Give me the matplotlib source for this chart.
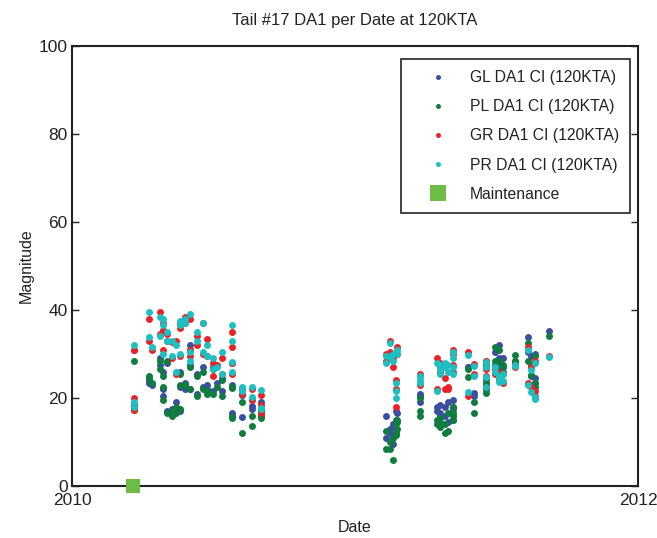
import matplotlib.pyplot as plt
from matplotlib.lines import Line2D

plt.rcParams['font.family'] = ['Liberation Sans', 'DejaVu Sans']

# Dates in decimal years (several flights per date)
dates = [
    2010.219, 2010.219, 2010.219, 2010.272, 2010.272, 2010.283, 2010.311, 2010.311,
    2010.322, 2010.322, 2010.322, 2010.336, 2010.336, 2010.353, 2010.353, 2010.367,
    2010.367, 2010.382, 2010.382, 2010.382, 2010.399, 2010.399, 2010.417, 2010.417,
    2010.417, 2010.442, 2010.442, 2010.463, 2010.463, 2010.477, 2010.477, 2010.498,
    2010.498, 2010.512, 2010.530, 2010.530, 2010.565, 2010.565, 2010.565, 2010.565,
    2010.601, 2010.601, 2010.636, 2010.636, 2010.668, 2010.668, 2010.668,
    2011.110, 2011.110, 2011.124, 2011.124, 2011.134, 2011.134, 2011.145, 2011.145,
    2011.145, 2011.148, 2011.148, 2011.230, 2011.230, 2011.230, 2011.290, 2011.290,
    2011.300, 2011.300, 2011.300, 2011.318, 2011.318, 2011.329, 2011.329, 2011.346,
    2011.346, 2011.346, 2011.346, 2011.399, 2011.399, 2011.420, 2011.420, 2011.463,
    2011.463, 2011.463, 2011.463, 2011.495, 2011.495, 2011.509, 2011.509, 2011.509,
    2011.523, 2011.523, 2011.565, 2011.565, 2011.611, 2011.611, 2011.622, 2011.622,
    2011.636, 2011.636, 2011.636, 2011.686,
]

gl = [
    31, 18.5, 17.5, 24, 23.5, 23, 27.5, 29, 26, 22, 20.5, 28, 17, 17.5, 16.5, 19,
    17.5, 26, 22.5, 17, 23.5, 22, 32, 27.5, 22, 21, 25.5, 27, 22.5, 23, 22, 21.5,
    27, 23.5, 24.5, 21.5, 28, 23, 16.6, 16, 20.7, 15.7, 18.2, 17.5, 19, 17, 16.6,
    16, 11, 12, 13, 9.5, 14, 17, 15, 13, 16.5, 14.5, 20.5, 19, 21, 18, 17,
    18.5, 16, 16.5, 16, 18, 14.5, 19, 19.5, 17.5, 18, 15, 27, 27, 21.1, 20.5,
    28.5, 24, 23, 22, 30.5, 27.5, 32, 29, 28, 29, 27, 28.5, 28, 33.9, 30.5,
    29.5, 25, 30, 24.5, 23.5, 35.2,
]
pl = [
    28.5, 18, 17.2, 24.5, 25, 23.5, 26.5, 28.5, 25, 22.5, 19.5, 28.5, 16.5, 17, 16, 18,
    16.5, 25.5, 23, 17.5, 23, 23, 31, 27, 22, 20.5, 25, 26, 22, 21.5, 21, 21,
    26.5, 22.5, 24, 20.5, 22.5, 22.3, 15.7, 15.5, 19, 12, 16, 13.6, 16.6, 15.5, 16,
    12.5, 8.5, 10, 8.5, 6, 11, 14, 11.5, 12, 15, 13, 17, 16, 20, 15, 14,
    13.5, 14.5, 15.5, 12, 14, 12.5, 16.5, 15, 16.5, 18, 16, 24.8, 26.5, 19.1, 16.6,
    27.5, 21.1, 23.5, 22, 31.5, 28.5, 31, 28.5, 26.5, 27.5, 26, 29.8, 28.5, 32.5, 28.5,
    27.5, 25.2, 29.5, 23.5, 22.5, 34.1,
]
gr = [
    31, 20, 17.3, 38, 33, 31, 39.5, 34.5, 31, 37, 35.5, 33, 34.5, 32.8, 29, 33,
    25.5, 37, 36, 29.5, 38.5, 37, 38, 31, 29.5, 34, 32, 30, 37, 33.5, 29.5, 25,
    28, 27.5, 29, 25.5, 35, 31.6, 25.5, 28, 22, 21, 22, 19.5, 20.7, 18.5, 16.5,
    30, 28.5, 33, 30.5, 29, 27, 24, 22, 18, 31.5, 30, 25.5, 23, 25, 22, 29,
    27, 28, 26, 24.5, 22, 22, 22.5, 31, 30, 27.5, 26, 30.5, 20.5, 27.8, 25.5,
    28.5, 26.5, 25, 22.5, 26.5, 25.5, 26, 24, 25, 25.5, 23.5, 27.5, 27, 31.6, 23.5,
    27, 22.5, 28.5, 21.5, 20.5, 29.5,
]
pr = [
    32, 19, 18, 39.5, 33.8, 31.6, 38.5, 34, 30, 38, 36.5, 35, 33, 33, 29.5, 32,
    26, 37.5, 36.5, 30, 38, 37, 39, 30.5, 28.5, 35, 33, 30.5, 37, 32, 29.5, 26.5,
    29, 27, 30.5, 25.5, 36.6, 33, 28.2, 26, 22.5, 21.5, 22.5, 20.2, 21.8, 17.7, 17.5,
    29.5, 28, 32.5, 29.5, 30, 28.5, 23.5, 21.5, 20, 30, 31, 25, 23.5, 24, 21.5, 28,
    26.5, 27.5, 25.5, 28, 27, 26, 27.5, 30.5, 29, 27, 25.5, 29.8, 21.4, 27.3, 25,
    28.2, 27, 24.8, 22.5, 27, 25.9, 25, 23.6, 24.5, 25.5, 23.8, 27.5, 27.2, 30.9, 23,
    26.4, 21.4, 28, 20.3, 19.8, 29.3,
]

maint_dates = [2010.215]
maint_vals = [0]

series = [
    ("GL DA1 CI (120KTA)", gl, "#3a4fa0"),
    ("PL DA1 CI (120KTA)", pl, "#0e7d3e"),
    ("GR DA1 CI (120KTA)", gr, "#ea2228"),
    ("PR DA1 CI (120KTA)", pr, "#1dbfc0"),
]
maint_color = "#6cbd45"
txt = "#222222"

fig = plt.figure(figsize=(6.57, 5.38), dpi=100)
ax = fig.add_axes([0.1096, 0.0967, 0.8615, 0.8178])

for nome, vals, cor in series:
    ax.plot(dates, vals, "o", color=cor, markersize=5, markeredgewidth=0)

ax.plot(maint_dates, maint_vals, "s", color=maint_color, markersize=10,
        markeredgewidth=0, clip_on=False, zorder=5)

ax.set_xlim(2010, 2012)
ax.set_ylim(0, 100)
ax.set_xticks([2010, 2012])
ax.set_xticklabels(["2010", "2012"])
ax.set_yticks([0, 20, 40, 60, 80, 100])
ax.tick_params(axis="x", length=0, labelsize=12.5, pad=5, labelcolor=txt)
ax.tick_params(axis="y", direction="in", length=5, width=1, right=True,
               labelsize=12.5, colors=txt, labelcolor=txt, pad=3)
for s in ax.spines.values():
    s.set_linewidth(1.5)
    s.set_color(txt)

ax.set_title("Tail #17 DA1 per Date at 120KTA", fontsize=12, pad=15, color=txt)
ax.set_xlabel("Date", fontsize=11.5, labelpad=9, color=txt)
ax.set_ylabel("Magnitude", fontsize=11.5, labelpad=4, color=txt)

handles = [Line2D([], [], ls="none", marker="o", color=cor, markersize=3.6,
                  markeredgewidth=0) for _, _, cor in series]
handles.append(Line2D([], [], ls="none", marker="s", color=maint_color,
                      markersize=12, markeredgewidth=0))
labels = [s[0] for s in series] + ["Maintenance"]
leg = ax.legend(handles, labels, loc="upper right", bbox_to_anchor=(0.986, 0.970),
                borderaxespad=0, fancybox=False, framealpha=1, edgecolor=txt,
                fontsize=11.3, labelspacing=0.9, handlelength=3.3, handletextpad=0.38,
                borderpad=0.7)
leg.get_frame().set_linewidth(1.2)
for t in leg.get_texts():
    t.set_color(txt)

plt.savefig("out.png", dpi=100)
